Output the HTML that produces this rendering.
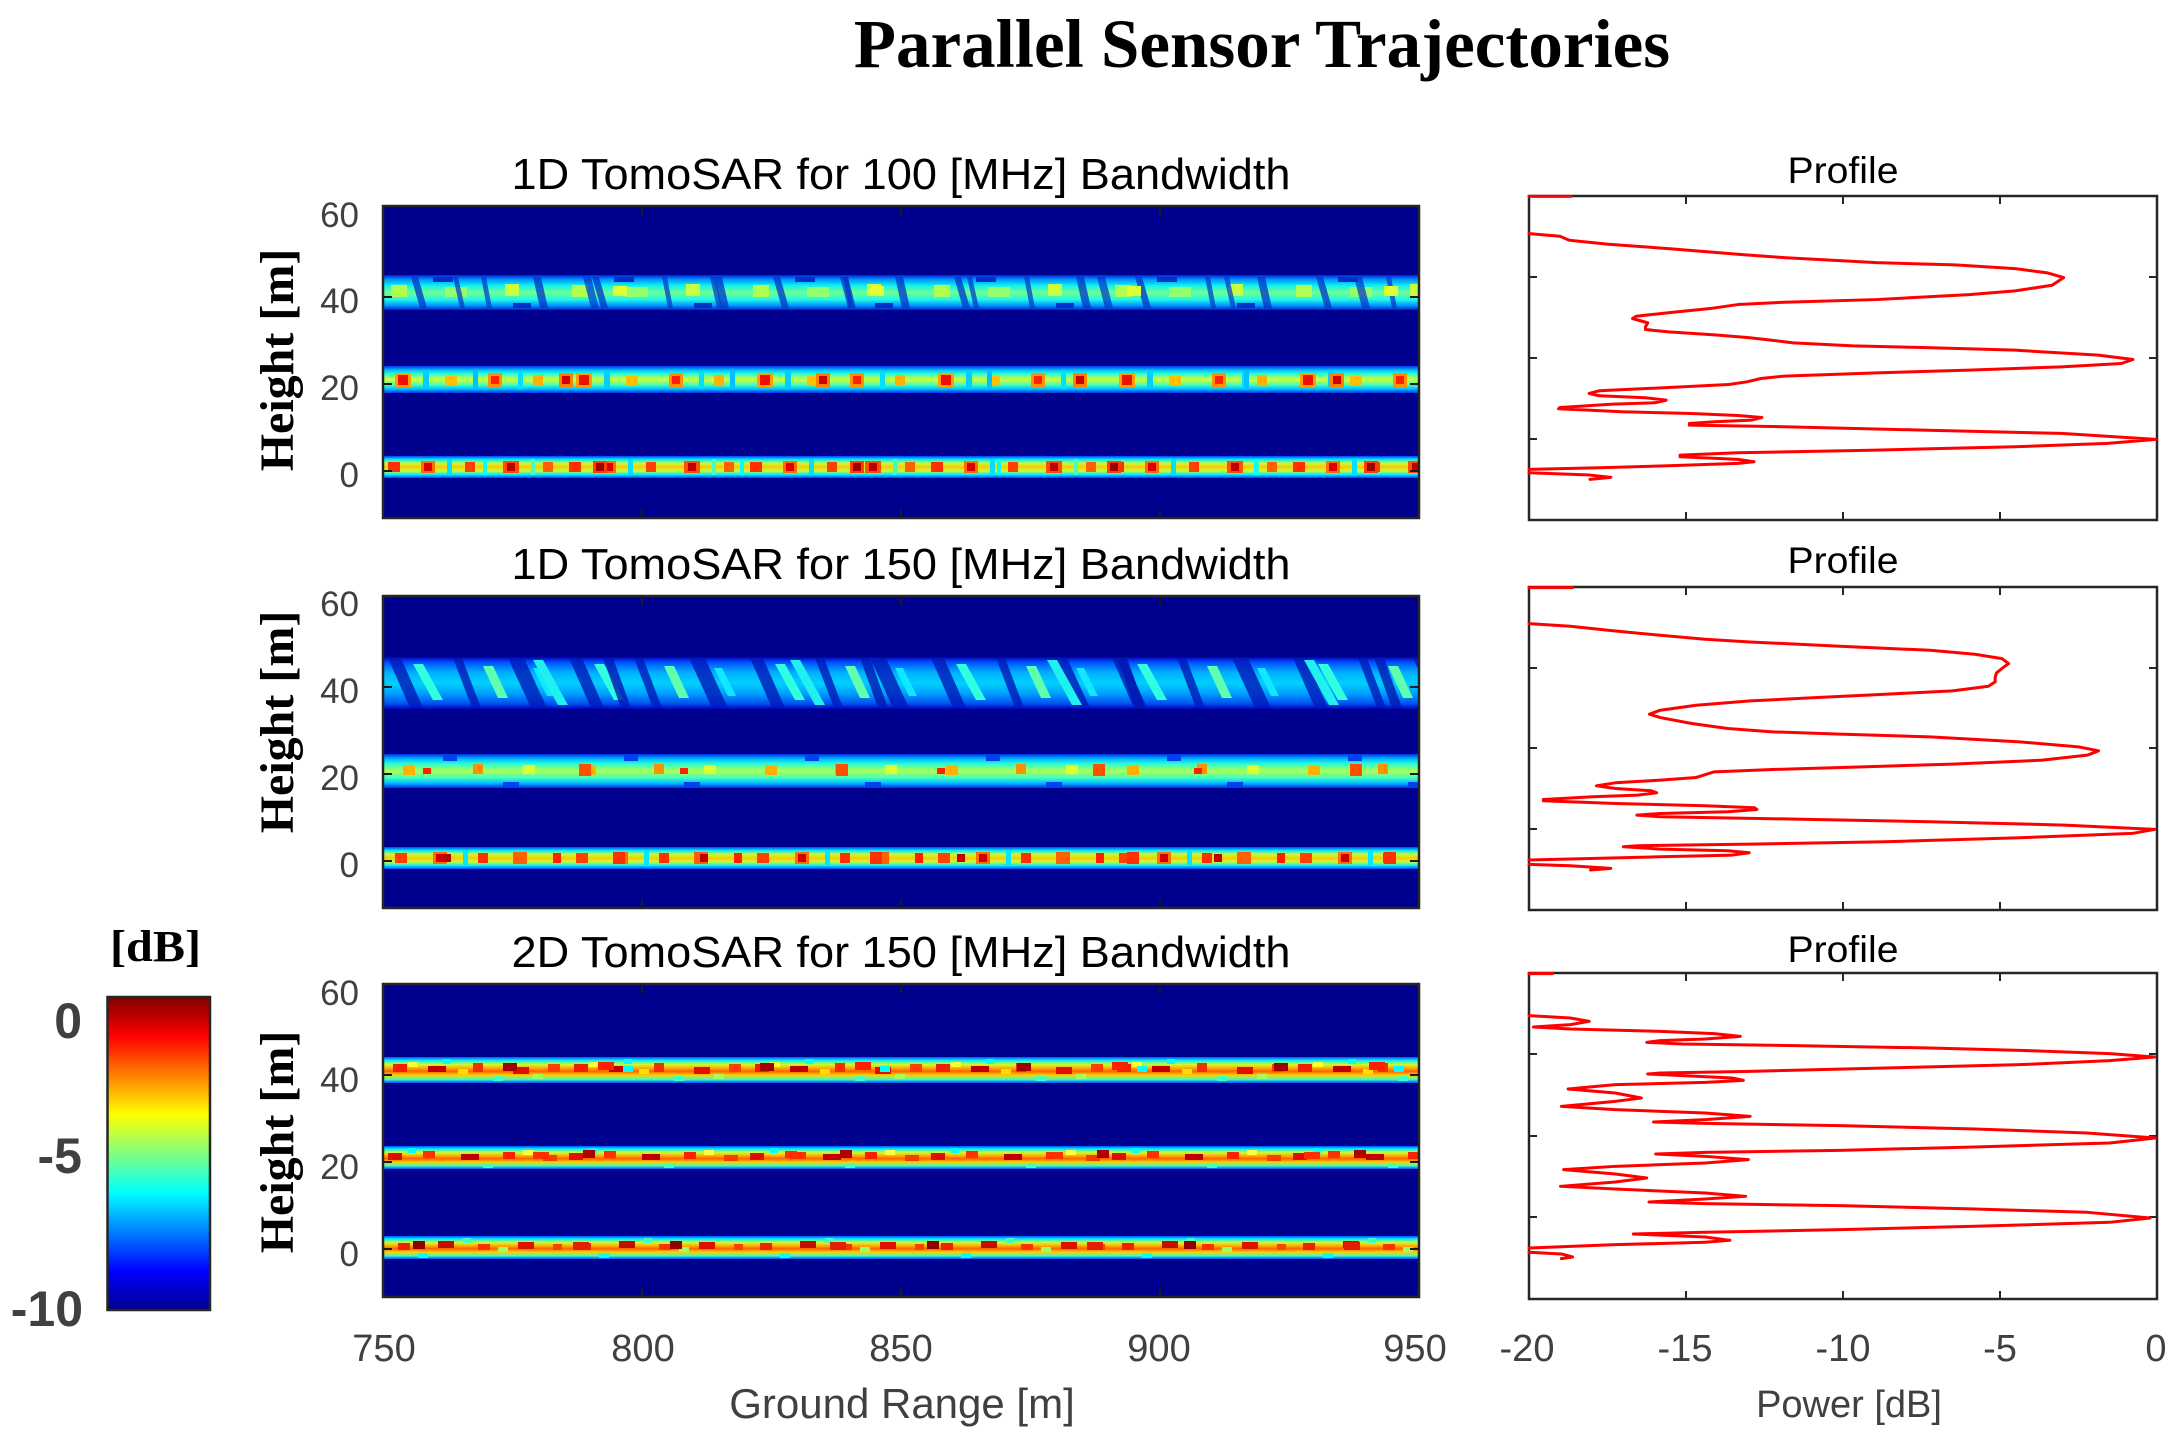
<!DOCTYPE html>
<html>
<head>
<meta charset="utf-8">
<style>
html,body{margin:0;padding:0;background:#fff;}
svg{display:block;}
.sans{font-family:"Liberation Sans",Arial,sans-serif;}
.serif{font-family:"Liberation Serif","Times New Roman",serif;font-weight:bold;}
</style>
</head>
<body>
<svg width="2184" height="1450" viewBox="0 0 2184 1450" xmlns="http://www.w3.org/2000/svg">
<defs>
  <linearGradient id="cbar" x1="0" y1="0" x2="0" y2="1">
    <stop offset="0" stop-color="#800000"/>
    <stop offset="0.125" stop-color="#FF0000"/>
    <stop offset="0.375" stop-color="#FFFF00"/>
    <stop offset="0.625" stop-color="#00FFFF"/>
    <stop offset="0.875" stop-color="#0000FF"/>
    <stop offset="1" stop-color="#00008F"/>
  </linearGradient>
  <linearGradient id="gP1A" x1="0" y1="0" x2="0" y2="1">
    <stop offset="0" stop-color="#0020D8"/>
    <stop offset="0.12" stop-color="#0090FF"/>
    <stop offset="0.3" stop-color="#10F0F0"/>
    <stop offset="0.5" stop-color="#70FF90"/>
    <stop offset="0.7" stop-color="#20F8E8"/>
    <stop offset="0.88" stop-color="#0090FF"/>
    <stop offset="1" stop-color="#0020C8"/>
  </linearGradient>
  <linearGradient id="gP1B" x1="0" y1="0" x2="0" y2="1">
    <stop offset="0" stop-color="#0030E8"/>
    <stop offset="0.15" stop-color="#00C0FF"/>
    <stop offset="0.3" stop-color="#30FFD0"/>
    <stop offset="0.5" stop-color="#D8FF30"/>
    <stop offset="0.7" stop-color="#40FFC0"/>
    <stop offset="0.85" stop-color="#00C0FF"/>
    <stop offset="1" stop-color="#0030E8"/>
  </linearGradient>
  <linearGradient id="gC" x1="0" y1="0" x2="0" y2="1">
    <stop offset="0" stop-color="#0040F8"/>
    <stop offset="0.15" stop-color="#00E8FF"/>
    <stop offset="0.32" stop-color="#B8FF48"/>
    <stop offset="0.5" stop-color="#FFC800"/>
    <stop offset="0.68" stop-color="#C0FF40"/>
    <stop offset="0.85" stop-color="#00E8FF"/>
    <stop offset="1" stop-color="#0040F8"/>
  </linearGradient>
  <linearGradient id="gP2A" x1="0" y1="0" x2="0" y2="1">
    <stop offset="0" stop-color="#0000B8"/>
    <stop offset="0.1" stop-color="#0050FF"/>
    <stop offset="0.3" stop-color="#00B0FF"/>
    <stop offset="0.5" stop-color="#00D0FF"/>
    <stop offset="0.7" stop-color="#00A0FF"/>
    <stop offset="0.9" stop-color="#0050F0"/>
    <stop offset="1" stop-color="#0000B8"/>
  </linearGradient>
  <linearGradient id="gP2B" x1="0" y1="0" x2="0" y2="1">
    <stop offset="0" stop-color="#0030E8"/>
    <stop offset="0.15" stop-color="#00C0FF"/>
    <stop offset="0.3" stop-color="#30FFD0"/>
    <stop offset="0.5" stop-color="#B0FF50"/>
    <stop offset="0.7" stop-color="#40FFC0"/>
    <stop offset="0.85" stop-color="#00C0FF"/>
    <stop offset="1" stop-color="#0030E8"/>
  </linearGradient>
  <linearGradient id="gP3" x1="0" y1="0" x2="0" y2="1">
    <stop offset="0" stop-color="#0050FF"/>
    <stop offset="0.12" stop-color="#00E8FF"/>
    <stop offset="0.28" stop-color="#C8FF38"/>
    <stop offset="0.42" stop-color="#FFB000"/>
    <stop offset="0.55" stop-color="#FF6000"/>
    <stop offset="0.7" stop-color="#FFD000"/>
    <stop offset="0.86" stop-color="#40FFC0"/>
    <stop offset="1" stop-color="#0050FF"/>
  </linearGradient>

  <pattern id="pA" patternUnits="userSpaceOnUse" x="383" y="0" width="181" height="1450">
    <!-- P1 band A -->
    <polygon points="28,277 35,277 44,308 37,308" fill="#0030C8" opacity="0.75"/>
    <polygon points="98,277 103,277 109,308 104,308" fill="#0030C8" opacity="0.7"/>
    <polygon points="150,277 158,277 165,308 157,308" fill="#0030C8" opacity="0.75"/>
    <rect x="8" y="285" width="16" height="12" fill="#B0FF50"/>
    <rect x="62" y="287" width="22" height="10" fill="#90FF70"/>
    <rect x="122" y="284" width="14" height="12" fill="#C8FF40"/>
    <rect x="50" y="277" width="20" height="5" fill="#0030C8"/>
    <rect x="130" y="303" width="18" height="5" fill="#0030C8"/>
    <!-- P1 band B -->
    <rect x="12" y="373" width="16" height="14" fill="#FFA000"/>
    <rect x="15" y="375" width="10" height="10" fill="#F01000"/>
    <rect x="62" y="375" width="12" height="10" fill="#FFC000"/>
    <rect x="105" y="373" width="14" height="14" fill="#FF9000"/>
    <rect x="108" y="376" width="8" height="8" fill="#FF2000"/>
    <rect x="150" y="375" width="10" height="10" fill="#FFB000"/>
    <rect x="40" y="371" width="6" height="18" fill="#00D0FF"/>
    <rect x="135" y="371" width="5" height="18" fill="#00E0FF"/>
    <!-- P1 band C -->
    <rect x="5" y="462" width="12" height="10" fill="#FF3000"/>
    <rect x="38" y="461" width="14" height="12" fill="#FF7000"/>
    <rect x="41" y="463" width="8" height="8" fill="#E00000"/>
    <rect x="82" y="462" width="10" height="10" fill="#FF4000"/>
    <rect x="120" y="461" width="16" height="12" fill="#FF5000"/>
    <rect x="124" y="463" width="8" height="8" fill="#C00000"/>
    <rect x="160" y="462" width="10" height="10" fill="#FF6000"/>
    <rect x="64" y="459" width="5" height="16" fill="#00E0FF"/>
    <rect x="148" y="459" width="4" height="16" fill="#40FFC0"/>
    <!-- P2 band A -->
    <polygon points="5,658 18,658 40,708 27,708" fill="#0018B8" opacity="0.8"/>
    <polygon points="70,658 79,658 98,708 89,708" fill="#0018B8" opacity="0.8"/>
    <polygon points="125,658 141,658 164,708 148,708" fill="#0018B8" opacity="0.8"/>
    <polygon points="30,664 40,664 60,700 50,700" fill="#30FFE0"/>
    <polygon points="100,666 110,666 125,698 115,698" fill="#60FFB0"/>
    <polygon points="150,668 158,668 172,696 164,696" fill="#10E8FF"/>
    <!-- P2 band B -->
    <rect x="20" y="765" width="12" height="10" fill="#FFB000"/>
    <rect x="90" y="764" width="10" height="10" fill="#FF9000"/>
    <rect x="140" y="765" width="12" height="9" fill="#E0FF30"/>
    <rect x="60" y="755" width="14" height="6" fill="#0040F0"/>
    <rect x="120" y="782" width="16" height="5" fill="#0040F0"/>
    <!-- P2 band C -->
    <rect x="12" y="853" width="12" height="10" fill="#FF4000"/>
    <rect x="50" y="852" width="14" height="12" fill="#FF7000"/>
    <rect x="53" y="854" width="8" height="8" fill="#D00000"/>
    <rect x="95" y="853" width="10" height="10" fill="#FF3000"/>
    <rect x="130" y="852" width="14" height="12" fill="#FF6000"/>
    <rect x="170" y="853" width="8" height="10" fill="#FF2000"/>
    <rect x="80" y="850" width="5" height="16" fill="#00E8FF"/>
    <!-- P3 band A -->
    <rect x="10" y="1064" width="14" height="8" fill="#F02000"/>
    <rect x="45" y="1066" width="18" height="6" fill="#C00000"/>
    <rect x="90" y="1063" width="10" height="9" fill="#F03000"/>
    <rect x="130" y="1067" width="16" height="7" fill="#E01000"/>
    <rect x="165" y="1064" width="12" height="8" fill="#FF4000"/>
    <rect x="25" y="1062" width="10" height="5" fill="#FFFF30"/>
    <rect x="60" y="1059" width="8" height="5" fill="#00FFFF"/>
    <rect x="110" y="1076" width="10" height="5" fill="#40FFC0"/>
    <rect x="150" y="1074" width="10" height="5" fill="#A0FF60"/>
    <rect x="75" y="1069" width="10" height="5" fill="#FFE000"/>
    <!-- P3 band B -->
    <rect x="5" y="1153" width="14" height="7" fill="#E01000"/>
    <rect x="40" y="1151" width="12" height="7" fill="#FF3000"/>
    <rect x="78" y="1154" width="18" height="6" fill="#C00000"/>
    <rect x="120" y="1152" width="12" height="7" fill="#FF2000"/>
    <rect x="160" y="1155" width="14" height="6" fill="#F04000"/>
    <rect x="25" y="1148" width="8" height="5" fill="#00FFFF"/>
    <rect x="100" y="1163" width="10" height="5" fill="#40FFC0"/>
    <rect x="140" y="1150" width="10" height="5" fill="#FFFF40"/>
    <!-- P3 band C -->
    <rect x="15" y="1243" width="12" height="7" fill="#F02000"/>
    <rect x="55" y="1241" width="16" height="7" fill="#C01000"/>
    <rect x="95" y="1244" width="12" height="6" fill="#FF3000"/>
    <rect x="135" y="1242" width="16" height="7" fill="#E01000"/>
    <rect x="170" y="1244" width="9" height="6" fill="#FF4000"/>
    <rect x="35" y="1253" width="10" height="5" fill="#00FFFF"/>
    <rect x="80" y="1238" width="8" height="5" fill="#40FFC0"/>
    <rect x="115" y="1247" width="10" height="5" fill="#A0FF60"/>
  </pattern>

  <pattern id="pB" patternUnits="userSpaceOnUse" x="383" y="0" width="257" height="1450">
    <polygon points="70,277 75,277 82,308 77,308" fill="#0030C8" opacity="0.7"/>
    <polygon points="200,277 208,277 216,308 208,308" fill="#0030C8" opacity="0.7"/>
    <rect x="230" y="286" width="14" height="10" fill="#E0FF30"/>
    <rect x="176" y="373" width="14" height="14" fill="#FF8000"/>
    <rect x="179" y="376" width="8" height="8" fill="#D00000"/>
    <rect x="90" y="370" width="5" height="20" fill="#00C0FF"/>
    <rect x="210" y="461" width="14" height="12" fill="#FF4000"/>
    <rect x="213" y="463" width="8" height="8" fill="#A00000"/>
    <rect x="100" y="459" width="4" height="16" fill="#00FFFF"/>
    <polygon points="150,660 160,660 185,705 175,705" fill="#20F0F0"/>
    <polygon points="220,658 230,658 248,708 238,708" fill="#0018B0" opacity="0.8"/>
    <rect x="196" y="764" width="12" height="12" fill="#FF5000"/>
    <rect x="40" y="768" width="8" height="6" fill="#FF2000"/>
    <rect x="60" y="854" width="8" height="8" fill="#C00000"/>
    <rect x="230" y="852" width="12" height="12" fill="#FF3000"/>
    <rect x="120" y="1063" width="14" height="8" fill="#A00000"/>
    <rect x="200" y="1150" width="12" height="8" fill="#B00000"/>
    <rect x="30" y="1241" width="12" height="8" fill="#900000"/>
    <rect x="240" y="1066" width="10" height="6" fill="#00FFFF"/>
    <rect x="215" y="1062" width="16" height="8" fill="#FF2000"/>
    <rect x="150" y="1152" width="16" height="7" fill="#FF3000"/>
    <rect x="190" y="1242" width="16" height="8" fill="#E02000"/>
  </pattern>
</defs>

<rect x="0" y="0" width="2184" height="1450" fill="#ffffff"/>

<!-- Main title -->
<text x="1262" y="67" class="serif" font-size="69" text-anchor="middle" fill="#000">Parallel Sensor Trajectories</text>

<!-- ===== Heatmap 1 ===== -->
<text x="901" y="189" class="sans" font-size="44" text-anchor="middle" fill="#000" textLength="779" lengthAdjust="spacingAndGlyphs">1D TomoSAR for 100 [MHz] Bandwidth</text>
<rect x="383" y="206" width="1036" height="312" fill="#00008F"/>
<rect x="383" y="275" width="1036" height="35" fill="url(#gP1A)"/>
<rect x="383" y="366" width="1036" height="27" fill="url(#gP1B)"/>
<rect x="383" y="456" width="1036" height="22" fill="url(#gC)"/>
<rect x="383" y="206" width="1036" height="312" fill="url(#pA)"/>
<rect x="383" y="206" width="1036" height="312" fill="url(#pB)"/>
<rect x="383" y="206" width="1036" height="312" fill="none" stroke="#262626" stroke-width="2.5"/>
<g stroke="#1a1a1a" stroke-width="2">
  <line x1="383" y1="297" x2="392" y2="297"/><line x1="383" y1="384" x2="392" y2="384"/><line x1="383" y1="471" x2="392" y2="471"/>
  <line x1="1419" y1="297" x2="1410" y2="297"/><line x1="1419" y1="384" x2="1410" y2="384"/><line x1="1419" y1="471" x2="1410" y2="471"/>
  <line x1="642" y1="206" x2="642" y2="215"/><line x1="901" y1="206" x2="901" y2="215"/><line x1="1160" y1="206" x2="1160" y2="215"/>
  <line x1="642" y1="518" x2="642" y2="509"/><line x1="901" y1="518" x2="901" y2="509"/><line x1="1160" y1="518" x2="1160" y2="509"/>
</g>
<g class="sans" font-size="35" fill="#404040" text-anchor="end">
  <text x="359" y="227">60</text><text x="359" y="313">40</text><text x="359" y="400">20</text><text x="359" y="487">0</text>
</g>
<text class="serif" font-size="48" fill="#000" text-anchor="middle" transform="translate(293,360) rotate(-90)">Height [m]</text>

<!-- ===== Heatmap 2 ===== -->
<text x="901" y="579" class="sans" font-size="44" text-anchor="middle" fill="#000" textLength="779" lengthAdjust="spacingAndGlyphs">1D TomoSAR for 150 [MHz] Bandwidth</text>
<rect x="383" y="596" width="1036" height="312" fill="#00008F"/>
<rect x="383" y="657" width="1036" height="52" fill="url(#gP2A)"/>
<rect x="383" y="754" width="1036" height="34" fill="url(#gP2B)"/>
<rect x="383" y="847" width="1036" height="22" fill="url(#gC)"/>
<rect x="383" y="596" width="1036" height="312" fill="url(#pA)"/>
<rect x="383" y="596" width="1036" height="312" fill="url(#pB)"/>
<rect x="383" y="596" width="1036" height="312" fill="none" stroke="#262626" stroke-width="2.5"/>
<g stroke="#1a1a1a" stroke-width="2">
  <line x1="383" y1="687" x2="392" y2="687"/><line x1="383" y1="774" x2="392" y2="774"/><line x1="383" y1="861" x2="392" y2="861"/>
  <line x1="1419" y1="687" x2="1410" y2="687"/><line x1="1419" y1="774" x2="1410" y2="774"/><line x1="1419" y1="861" x2="1410" y2="861"/>
  <line x1="642" y1="596" x2="642" y2="605"/><line x1="901" y1="596" x2="901" y2="605"/><line x1="1160" y1="596" x2="1160" y2="605"/>
  <line x1="642" y1="908" x2="642" y2="899"/><line x1="901" y1="908" x2="901" y2="899"/><line x1="1160" y1="908" x2="1160" y2="899"/>
</g>
<g class="sans" font-size="35" fill="#404040" text-anchor="end">
  <text x="359" y="616">60</text><text x="359" y="703">40</text><text x="359" y="790">20</text><text x="359" y="877">0</text>
</g>
<text class="serif" font-size="48" fill="#000" text-anchor="middle" transform="translate(293,722) rotate(-90)">Height [m]</text>

<!-- ===== Heatmap 3 ===== -->
<text x="901" y="967" class="sans" font-size="44" text-anchor="middle" fill="#000" textLength="779" lengthAdjust="spacingAndGlyphs">2D TomoSAR for 150 [MHz] Bandwidth</text>
<rect x="383" y="984" width="1036" height="313" fill="#00008F"/>
<rect x="383" y="1057" width="1036" height="26" fill="url(#gP3)"/>
<rect x="383" y="1146" width="1036" height="23" fill="url(#gP3)"/>
<rect x="383" y="1236" width="1036" height="23" fill="url(#gP3)"/>
<rect x="383" y="984" width="1036" height="313" fill="url(#pA)"/>
<rect x="383" y="984" width="1036" height="313" fill="url(#pB)"/>
<rect x="383" y="984" width="1036" height="313" fill="none" stroke="#262626" stroke-width="2.5"/>
<g stroke="#1a1a1a" stroke-width="2">
  <line x1="383" y1="1075" x2="392" y2="1075"/><line x1="383" y1="1162" x2="392" y2="1162"/><line x1="383" y1="1249" x2="392" y2="1249"/>
  <line x1="1419" y1="1075" x2="1410" y2="1075"/><line x1="1419" y1="1162" x2="1410" y2="1162"/><line x1="1419" y1="1249" x2="1410" y2="1249"/>
  <line x1="642" y1="984" x2="642" y2="993"/><line x1="901" y1="984" x2="901" y2="993"/><line x1="1160" y1="984" x2="1160" y2="993"/>
  <line x1="642" y1="1297" x2="642" y2="1288"/><line x1="901" y1="1297" x2="901" y2="1288"/><line x1="1160" y1="1297" x2="1160" y2="1288"/>
</g>
<g class="sans" font-size="35" fill="#404040" text-anchor="end">
  <text x="359" y="1005">60</text><text x="359" y="1092">40</text><text x="359" y="1179">20</text><text x="359" y="1266">0</text>
</g>
<text class="serif" font-size="48" fill="#000" text-anchor="middle" transform="translate(293,1142) rotate(-90)">Height [m]</text>

<!-- x tick labels heatmap -->
<g class="sans" font-size="38" fill="#404040" text-anchor="middle">
  <text x="384" y="1361">750</text><text x="643" y="1361">800</text><text x="901" y="1361">850</text><text x="1159" y="1361">900</text><text x="1415" y="1361">950</text>
</g>
<text x="902" y="1418" class="sans" font-size="42" fill="#404040" text-anchor="middle">Ground Range [m]</text>

<!-- ===== Colorbar ===== -->
<text x="155.5" y="961" class="serif" font-size="44" fill="#000" text-anchor="middle" textLength="91" lengthAdjust="spacingAndGlyphs">[dB]</text>
<rect x="107.5" y="997" width="102.5" height="313" fill="url(#cbar)" stroke="#262626" stroke-width="2.5"/>
<g class="sans" font-size="50" font-weight="bold" fill="#404040" text-anchor="end">
  <text x="82" y="1038">0</text>
  <text x="82" y="1173">-5</text>
  <text x="83" y="1326">-10</text>
</g>

<!-- ===== Profiles ===== -->
<g class="sans" font-size="37" fill="#000" text-anchor="middle">
  <text x="1843" y="183" textLength="111" lengthAdjust="spacingAndGlyphs">Profile</text>
  <text x="1843" y="573" textLength="111" lengthAdjust="spacingAndGlyphs">Profile</text>
  <text x="1843" y="962" textLength="111" lengthAdjust="spacingAndGlyphs">Profile</text>
</g>

<g fill="none" stroke="#262626" stroke-width="2.5">
  <rect x="1529" y="196" width="628" height="324"/>
  <rect x="1529" y="587" width="628" height="323"/>
  <rect x="1529" y="973" width="628" height="326"/>
</g>
<g stroke="#262626" stroke-width="2">
  <line x1="1686" y1="196" x2="1686" y2="204"/><line x1="1843" y1="196" x2="1843" y2="204"/><line x1="2000" y1="196" x2="2000" y2="204"/>
  <line x1="1686" y1="520" x2="1686" y2="512"/><line x1="1843" y1="520" x2="1843" y2="512"/><line x1="2000" y1="520" x2="2000" y2="512"/>
  <line x1="1529" y1="277" x2="1537" y2="277"/><line x1="1529" y1="358" x2="1537" y2="358"/><line x1="1529" y1="439" x2="1537" y2="439"/>
  <line x1="2157" y1="277" x2="2149" y2="277"/><line x1="2157" y1="358" x2="2149" y2="358"/><line x1="2157" y1="439" x2="2149" y2="439"/>
  <line x1="1686" y1="587" x2="1686" y2="595"/><line x1="1843" y1="587" x2="1843" y2="595"/><line x1="2000" y1="587" x2="2000" y2="595"/>
  <line x1="1686" y1="910" x2="1686" y2="902"/><line x1="1843" y1="910" x2="1843" y2="902"/><line x1="2000" y1="910" x2="2000" y2="902"/>
  <line x1="1529" y1="668" x2="1537" y2="668"/><line x1="1529" y1="748" x2="1537" y2="748"/><line x1="1529" y1="829" x2="1537" y2="829"/>
  <line x1="2157" y1="668" x2="2149" y2="668"/><line x1="2157" y1="748" x2="2149" y2="748"/><line x1="2157" y1="829" x2="2149" y2="829"/>
  <line x1="1686" y1="973" x2="1686" y2="981"/><line x1="1843" y1="973" x2="1843" y2="981"/><line x1="2000" y1="973" x2="2000" y2="981"/>
  <line x1="1686" y1="1299" x2="1686" y2="1291"/><line x1="1843" y1="1299" x2="1843" y2="1291"/><line x1="2000" y1="1299" x2="2000" y2="1291"/>
  <line x1="1529" y1="1054" x2="1537" y2="1054"/><line x1="1529" y1="1136" x2="1537" y2="1136"/><line x1="1529" y1="1217" x2="1537" y2="1217"/>
  <line x1="2157" y1="1054" x2="2149" y2="1054"/><line x1="2157" y1="1136" x2="2149" y2="1136"/><line x1="2157" y1="1217" x2="2149" y2="1217"/>
</g>

<!-- Profile 1 curve -->
<g transform="translate(1529,196) scale(0.4621,0.3330) translate(-148,-287)" fill="none" stroke="#FF0000" stroke-width="3" stroke-linejoin="round" stroke-linecap="round">
  <path vector-effect="non-scaling-stroke" d="M148,288 L238,288"/>
  <path vector-effect="non-scaling-stroke" d="M148,400 L215,408 L235,420 L320,432 L450,445 L600,462 L640,466 L700,472 L900,487 L1070,494 L1200,505 L1270,518 L1305,532 L1280,555 L1200,572 L1100,583 L900,598 L700,606 L600,613 L540,625 L460,636 L380,648 L372,655 L390,662 L405,668 L400,680 L400,688 L450,695 L550,704 L620,712 L660,718 L720,728 L850,737 L1000,742 L1200,750 L1380,765 L1455,778 L1430,790 L1300,800 L1100,810 L900,818 L700,828 L650,835 L620,845 L580,853 L450,862 L300,872 L278,880 L300,887 L400,893 L445,900 L420,908 L330,912 L215,922 L212,926 L350,935 L500,940 L600,946 L652,952 L630,960 L550,965 L495,970 L495,975 L700,980 L1000,990 L1300,1000 L1505,1018 L1400,1030 L1200,1040 L900,1050 L600,1058 L475,1065 L475,1070 L600,1078 L635,1085 L600,1090 L450,1097 L300,1103 L148,1108"/>
  <path vector-effect="non-scaling-stroke" d="M148,1118 L280,1125 L325,1132 L280,1138"/>
</g>

<!-- Profile 2 curve -->
<g transform="translate(1529,587) scale(0.4495,0.333) translate(-108,-140)" fill="none" stroke="#FF0000" stroke-width="3" stroke-linejoin="round" stroke-linecap="round">
  <path vector-effect="non-scaling-stroke" d="M108,142 L205,142"/>
  <path vector-effect="non-scaling-stroke" d="M108,250 L200,258 L300,272 L400,285 L500,297 L600,305 L800,318 L1000,330 L1100,342 L1160,355 L1175,370 L1160,385 L1148,398 L1145,412 L1145,425 L1130,438 L1050,452 L900,462 L750,472 L600,482 L480,495 L400,510 L376,522 L400,532 L470,550 L550,565 L650,575 L800,582 L1000,590 L1200,605 L1330,620 L1375,632 L1350,645 L1250,660 L1050,672 L850,680 L650,688 L520,695 L480,712 L400,720 L300,728 L258,737 L300,745 L380,752 L392,758 L350,765 L250,770 L140,778 L140,782 L300,790 L500,797 L610,803 L615,808 L550,815 L400,820 L348,825 L400,830 L700,837 L1000,845 L1300,855 L1500,868 L1450,880 L1200,893 L900,905 L600,912 L350,917 L318,920 L400,927 L550,932 L598,938 L560,945 L400,950 L200,957 L108,960"/>
  <path vector-effect="non-scaling-stroke" d="M108,973 L200,977 L290,985 L245,990"/>
</g>

<!-- Profile 3 curve -->
<g transform="translate(1529,973) scale(0.4495,0.3333) translate(-108,-130)" fill="none" stroke="#FF0000" stroke-width="3" stroke-linejoin="round" stroke-linecap="round">
  <path vector-effect="non-scaling-stroke" d="M108,132 L160,132"/>
  <path vector-effect="non-scaling-stroke" d="M108,258 L200,265 L242,275 L200,285 L118,292 L200,298 L400,305 L520,312 L578,320 L500,328 L400,333 L370,338 L450,343 L700,348 L1000,355 L1200,362 L1400,372 L1500,382 L1400,393 L1200,405 L900,415 L600,425 L400,430 L372,433 L450,438 L560,445 L585,452 L500,458 L300,465 L195,478 L300,490 L358,505 L300,515 L180,530 L300,540 L500,550 L600,560 L500,570 L385,577 L500,581 L800,588 L1100,598 L1350,610 L1502,625 L1400,640 L1100,652 L800,662 L500,668 L390,673 L500,680 L596,690 L500,700 L300,710 L185,720 L300,733 L370,745 L300,757 L178,770 L300,778 L500,790 L590,800 L500,808 L375,817 L500,822 L800,828 L1100,838 L1350,848 L1490,865 L1400,878 L1100,890 L800,900 L500,908 L340,913 L500,922 L555,932 L500,938 L300,945 L108,955"/>
  <path vector-effect="non-scaling-stroke" d="M108,968 L180,973 L205,982 L180,987"/>
</g>

<!-- Profile x labels -->
<g class="sans" font-size="38" fill="#404040" text-anchor="middle">
  <text x="1527" y="1361">-20</text><text x="1685" y="1361">-15</text><text x="1843" y="1361">-10</text><text x="2000" y="1361">-5</text><text x="2156" y="1361">0</text>
</g>
<text x="1849" y="1417" class="sans" font-size="38" fill="#404040" text-anchor="middle">Power [dB]</text>

</svg>
</body>
</html>
